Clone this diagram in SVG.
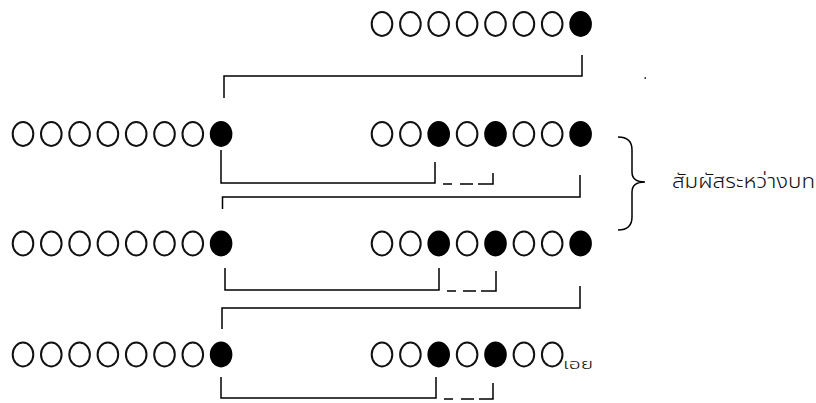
<svg xmlns="http://www.w3.org/2000/svg" xmlns:xlink="http://www.w3.org/1999/xlink" width="816" height="403" viewBox="0 0 816 403">
<style>
.o{fill:#fff;stroke:#111;stroke-width:2}
.f{fill:#000;stroke:#000;stroke-width:2}
.c{fill:none;stroke:#000;stroke-width:1.5}
.t{font-family:"Noto Sans Thai","Noto Sans","DejaVu Sans",sans-serif;font-weight:300;fill:#111}
</style>
<defs>
<ellipse id="o" class="o" rx="10.3" ry="11.9"/>
<ellipse id="f" class="f" rx="10.3" ry="11.9"/>
</defs>
<rect width="816" height="403" fill="#fff"/>
<g id="row1">
<use xlink:href="#o" x="382" y="24"/><use xlink:href="#o" x="410.4" y="24"/><use xlink:href="#o" x="438.7" y="24"/><use xlink:href="#o" x="467.1" y="24"/><use xlink:href="#o" x="495.5" y="24"/><use xlink:href="#o" x="523.9" y="24"/><use xlink:href="#o" x="552.2" y="24"/><use xlink:href="#f" x="580.6" y="24"/>
</g>
<g id="row2-left">
<use xlink:href="#o" x="23" y="134"/><use xlink:href="#o" x="51.3" y="134"/><use xlink:href="#o" x="79.6" y="134"/><use xlink:href="#o" x="107.9" y="134"/><use xlink:href="#o" x="136.2" y="134"/><use xlink:href="#o" x="164.5" y="134"/><use xlink:href="#o" x="192.8" y="134"/><use xlink:href="#f" x="221.1" y="134"/>
</g>
<g id="row2-right">
<use xlink:href="#o" x="382" y="134"/><use xlink:href="#o" x="410.4" y="134"/><use xlink:href="#f" x="438.7" y="134"/><use xlink:href="#o" x="467.1" y="134"/><use xlink:href="#f" x="495.5" y="134"/><use xlink:href="#o" x="523.9" y="134"/><use xlink:href="#o" x="552.2" y="134"/><use xlink:href="#f" x="580.6" y="134"/>
</g>
<g id="row3-left">
<use xlink:href="#o" x="23" y="243.5"/><use xlink:href="#o" x="51.3" y="243.5"/><use xlink:href="#o" x="79.6" y="243.5"/><use xlink:href="#o" x="107.9" y="243.5"/><use xlink:href="#o" x="136.2" y="243.5"/><use xlink:href="#o" x="164.5" y="243.5"/><use xlink:href="#o" x="192.8" y="243.5"/><use xlink:href="#f" x="221.1" y="243.5"/>
</g>
<g id="row3-right">
<use xlink:href="#o" x="382" y="243.5"/><use xlink:href="#o" x="410.4" y="243.5"/><use xlink:href="#f" x="438.7" y="243.5"/><use xlink:href="#o" x="467.1" y="243.5"/><use xlink:href="#f" x="495.5" y="243.5"/><use xlink:href="#o" x="523.9" y="243.5"/><use xlink:href="#o" x="552.2" y="243.5"/><use xlink:href="#f" x="580.6" y="243.5"/>
</g>
<g id="row4-left">
<use xlink:href="#o" x="23" y="354.5"/><use xlink:href="#o" x="51.3" y="354.5"/><use xlink:href="#o" x="79.6" y="354.5"/><use xlink:href="#o" x="107.9" y="354.5"/><use xlink:href="#o" x="136.2" y="354.5"/><use xlink:href="#o" x="164.5" y="354.5"/><use xlink:href="#o" x="192.8" y="354.5"/><use xlink:href="#f" x="221.1" y="354.5"/>
</g>
<g id="row4-right">
<use xlink:href="#o" x="382" y="354.5"/><use xlink:href="#o" x="410.4" y="354.5"/><use xlink:href="#f" x="438.7" y="354.5"/><use xlink:href="#o" x="467.1" y="354.5"/><use xlink:href="#f" x="495.5" y="354.5"/><use xlink:href="#o" x="523.9" y="354.5"/><use xlink:href="#o" x="552.2" y="354.5"/>
<text class="t" x="563" y="369" font-size="14" textLength="30" lengthAdjust="spacingAndGlyphs">เอย</text>
</g>
<g id="label">
<path class="c" d="M618,137 Q632,137 632,150 V172 Q632,182 645,182 Q632,182 632,192 V217 Q632,230 618,230"/>
<text class="t" x="672" y="188" font-size="19" textLength="143" lengthAdjust="spacingAndGlyphs">สัมผัสระหว่างบท</text>
</g>
<rect x="644.5" y="77.3" width="1.5" height="1.5" fill="#000"/>
<g id="connectors">
<path class="c" d="M224,98 V76 H582 V55"/>
<path class="c" d="M221,150 V183 H435 V162"/>
<path class="c" d="M443,184 H452 M460,184 H473 M478,184 H493 V173"/>
<path class="c" d="M580,175 V197 H222.5 V209"/>
<path class="c" d="M225,268 V290 H439 V268"/>
<path class="c" d="M447,291 H456 M463,291 H476 M481,291 H496 V271"/>
<path class="c" d="M580,286 V308 H222 V329"/>
<path class="c" d="M221,377 V398 H436 V377"/>
<path class="c" d="M444,399 H453 M461,399 H474 M479,399 H493 V383"/>
</g>
</svg>
